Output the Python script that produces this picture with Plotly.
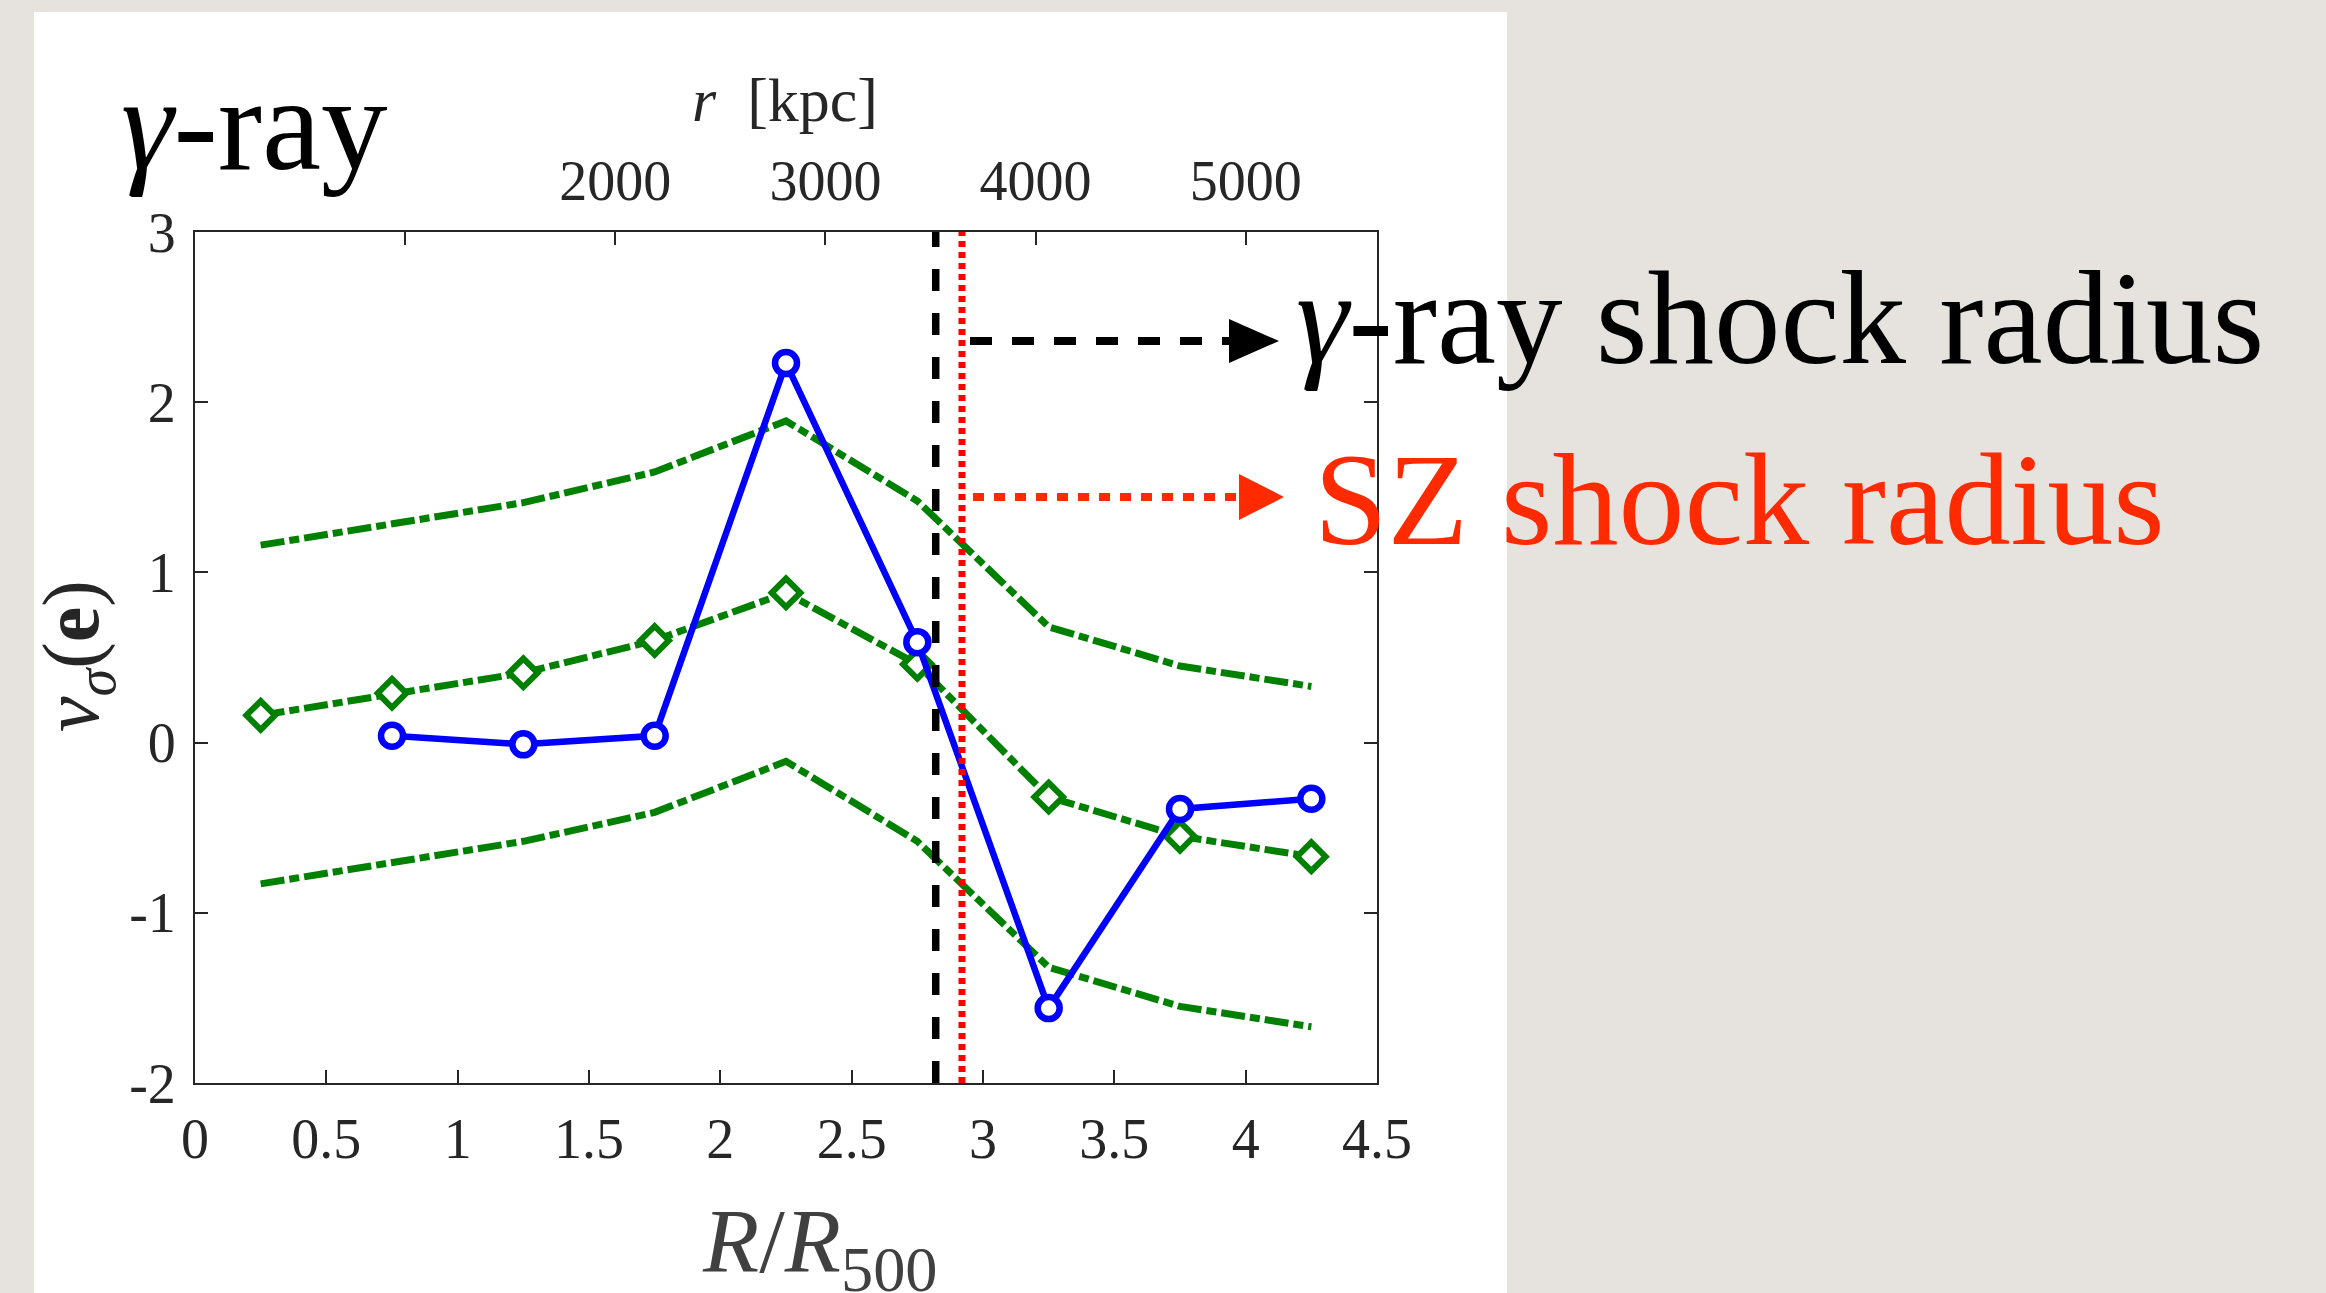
import plotly.graph_objects as go

# ---------------- data ----------------
R_sim = [0.25, 0.75, 1.25, 1.75, 2.25, 2.75, 3.25, 3.75, 4.25]
nu_mean = [0.16, 0.29, 0.41, 0.60, 0.88, 0.46, -0.32, -0.55, -0.67]
nu_upper = [1.16, 1.28, 1.41, 1.59, 1.89, 1.42, 0.68, 0.45, 0.33]
nu_lower = [-0.83, -0.71, -0.58, -0.41, -0.11, -0.58, -1.32, -1.55, -1.67]

R_obs = [0.75, 1.25, 1.75, 2.25, 2.75, 3.25, 3.75, 4.25]
nu_obs = [0.04, -0.01, 0.04, 2.23, 0.59, -1.56, -0.39, -0.33]

gamma_shock_R = 2.82
sz_shock_R = 2.92

R500_kpc = 1250.0
kpc_ticks = [2000, 3000, 4000, 5000]
kpc_ticktext = ["2000", "3000", "4000", "5000"]
kpc_unlabelled_ticks = [1000]

x_range = [0, 4.5]
y_range = [-2, 3]
y_tickvals = [-2, -1, 0, 1, 2, 3]
y_ticktext = ["-2", "-1", "0", "1", "2", "3"]

# ---------------- layout geometry ----------------
W, H = 2326, 1293
L, Rm, T, B = 195, 949, 232, 210
PW, PH = W - L - Rm, H - T - B


def px(xp):
    return (xp - L) / PW


def py(yp):
    return (H - B - yp) / PH


FONT = "Liberation Serif"
AX = "#262626"
GREEN = "#008000"
BLUE = "#0000FF"
RED_TXT = "#FF2A00"
DASHDOT = "24px,5px,10px,5px"

fig = go.Figure()

fig.add_trace(go.Scatter(x=R_sim, y=nu_upper, mode="lines",
                         line=dict(color=GREEN, width=7, dash=DASHDOT),
                         showlegend=False))
fig.add_trace(go.Scatter(x=R_sim, y=nu_lower, mode="lines",
                         line=dict(color=GREEN, width=7, dash=DASHDOT),
                         showlegend=False))
fig.add_trace(go.Scatter(x=R_sim, y=nu_mean, mode="lines+markers",
                         line=dict(color=GREEN, width=7, dash=DASHDOT),
                         marker=dict(symbol="diamond", size=22, color="white",
                                     line=dict(color=GREEN, width=6)),
                         showlegend=False))
fig.add_trace(go.Scatter(x=R_obs, y=nu_obs, mode="lines+markers",
                         line=dict(color=BLUE, width=6.5),
                         marker=dict(symbol="circle", size=22, color="white",
                                     line=dict(color=BLUE, width=6.5)),
                         showlegend=False))
# shock radii
fig.add_trace(go.Scatter(x=[gamma_shock_R, gamma_shock_R], y=y_range, mode="lines",
                         line=dict(color="black", width=7.5, dash="22px,22px"),
                         showlegend=False))
fig.add_trace(go.Scatter(x=[sz_shock_R, sz_shock_R], y=y_range, mode="lines",
                         line=dict(color="#FF0000", width=7, dash="6px,5px"),
                         showlegend=False))
# invisible trace to drive the top kpc axis
fig.add_trace(go.Scatter(x=[0, x_range[1] * R500_kpc], y=[0, 0], xaxis="x2",
                         mode="lines", line=dict(width=0), opacity=0,
                         hoverinfo="skip", showlegend=False))

tickfont = dict(family=FONT, size=56, color=AX)

fig.update_layout(
    width=W, height=H,
    margin=dict(l=L, r=Rm, t=T, b=B, pad=0),
    paper_bgcolor="#E6E3DE",
    plot_bgcolor="white",
    showlegend=False,
    xaxis=dict(range=x_range, dtick=0.5, tick0=0, ticks="inside", ticklen=13,
               tickwidth=2, tickcolor=AX, showline=True, linewidth=2,
               linecolor=AX, mirror=True, showgrid=False, zeroline=False,
               tickfont=tickfont, ticklabelstandoff=6),
    xaxis2=dict(range=[x_range[0] * R500_kpc, x_range[1] * R500_kpc],
                overlaying="x", side="top", tickvals=kpc_ticks,
                ticktext=kpc_ticktext, ticks="inside", ticklen=13,
                tickwidth=2, tickcolor=AX, showline=False, showgrid=False,
                zeroline=False, tickfont=tickfont, ticklabelstandoff=20,
                minor=dict(tickvals=kpc_unlabelled_ticks, ticks="inside",
                           ticklen=13, tickwidth=2, tickcolor=AX,
                           showgrid=False)),
    yaxis=dict(range=y_range, tickvals=y_tickvals, ticktext=y_ticktext,
               ticks="inside", ticklen=13, tickwidth=2, tickcolor=AX,
               showline=True, linewidth=2, linecolor=AX, mirror="ticks",
               showgrid=False, zeroline=False, tickfont=tickfont,
               ticklabelstandoff=6),
)

# white slide panel
fig.add_shape(type="rect", xref="paper", yref="paper",
              x0=px(34), x1=px(1507), y0=py(1300), y1=py(12),
              fillcolor="white", line=dict(width=0), layer="below")

# arrows
fig.add_shape(type="line", xref="paper", yref="paper",
              x0=px(970), x1=px(1232), y0=py(341), y1=py(341),
              line=dict(color="black", width=8, dash="22px,20px"))
fig.add_shape(type="path", xref="paper", yref="paper",
              path=f"M{px(1229)},{py(319)} L{px(1279)},{py(341)} L{px(1229)},{py(363)} Z",
              fillcolor="black", line=dict(width=0))
fig.add_shape(type="line", xref="paper", yref="paper",
              x0=px(973), x1=px(1240), y0=py(497), y1=py(497),
              line=dict(color=RED_TXT, width=8, dash="11px,10px"))
fig.add_shape(type="path", xref="paper", yref="paper",
              path=f"M{px(1239)},{py(474)} L{px(1284)},{py(497)} L{px(1239)},{py(520)} Z",
              fillcolor=RED_TXT, line=dict(width=0))

ann = []
ann.append(dict(text="<i>γ</i>-ray shock radius", x=px(1294), y=py(318),
                xanchor="left", yanchor="middle",
                font=dict(family=FONT, size=133, color="black")))
ann.append(dict(text="SZ shock radius", x=px(1312), y=py(499),
                xanchor="left", yanchor="middle",
                font=dict(family=FONT, size=132, color=RED_TXT)))
ann.append(dict(text="<i>γ</i>-ray", x=px(119), y=py(124),
                xanchor="left", yanchor="middle",
                font=dict(family=FONT, size=133, color="black")))
ann.append(dict(text="<i>r</i>  [kpc]", x=px(785), y=py(100),
                xanchor="center", yanchor="middle",
                font=dict(family=FONT, size=62, color=AX)))
ann.append(dict(text="<i>R</i>/<i>R</i><sub>500</sub>", x=px(820), y=py(1247),
                xanchor="center", yanchor="middle",
                font=dict(family=FONT, size=92, color="#404040")))
ann.append(dict(text="<i>ν</i><sub><i>σ</i></sub>(<b>e</b>)", x=px(77), y=py(656),
                xanchor="center", yanchor="middle", textangle=-90,
                font=dict(family=FONT, size=80, color=AX)))
for a in ann:
    a.update(xref="paper", yref="paper", showarrow=False)
fig.update_layout(annotations=ann)

fig.write_html("out.html")
